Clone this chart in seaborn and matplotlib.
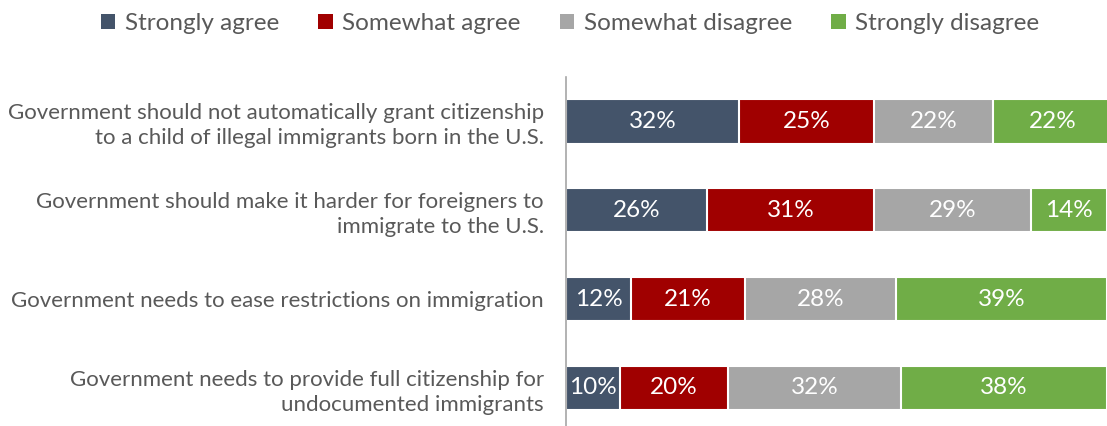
import numpy as np
import pandas as pd
import matplotlib
matplotlib.use("Agg")
import matplotlib.pyplot as plt
import seaborn as sns
from matplotlib.patches import Patch

# survey statements (top to bottom)
statements = [
    "Government should not automatically grant citizenship\nto a child of illegal immigrants born in the U.S.",
    "Government should make it harder for foreigners to\nimmigrate to the U.S.",
    "Government needs to ease restrictions on immigration",
    "Government needs to provide full citizenship for\nundocumented immigrants",
]
responses = ["Strongly agree", "Somewhat agree", "Somewhat disagree", "Strongly disagree"]
strongly_agree = [32, 26, 12, 10]
somewhat_agree = [25, 31, 21, 20]
somewhat_disagree = [22, 29, 28, 32]
strongly_disagree = [22, 14, 39, 38]
colours = ["#44546A", "#A00000", "#A6A6A6", "#70AD47"]

sns.set_style("white")
plt.rcParams["font.family"] = ["Lato", "DejaVu Sans"]

df = pd.DataFrame({"statement": statements,
                   responses[0]: strongly_agree,
                   responses[1]: somewhat_agree,
                   responses[2]: somewhat_disagree,
                   responses[3]: strongly_disagree})
cum = df[responses].cumsum(axis=1)

fig = plt.figure(figsize=(11.07, 4.26), dpi=100)
ax = fig.add_axes([566 / 1107, 0, 1 - 566 / 1107, 1 - 77 / 426])

# stacked bars: draw cumulative totals from the right-most segment back
for i in range(len(responses) - 1, -1, -1):
    sns.barplot(x=cum[responses[i]], y=df["statement"], order=statements,
                color=colours[i], orient="h", width=0.5, ax=ax,
                edgecolor="white", linewidth=1.5, saturation=1)

for r in range(len(statements)):
    for i, resp in enumerate(responses):
        val = df[resp][r]
        left = cum[resp][r] - val
        ax.text(left + val / 2, r, f"{val}%", ha="center", va="center",
                color="white", fontsize=17.5)

ax.set_xlim(0, 100)
ax.set_ylim(3.43, -0.5)
ax.set_xlabel("")
ax.set_ylabel("")
ax.set_xticks([])
ax.set_yticks(range(len(statements)))
ax.set_yticklabels(statements, fontsize=16, color="#595959", multialignment="right",
                   linespacing=1.3)
ax.tick_params(axis="y", length=0, pad=16)
for s in ["top", "right", "bottom"]:
    ax.spines[s].set_visible(False)
ax.spines["left"].set_color("#A6A6A6")
ax.spines["left"].set_linewidth(1.2)

handles = [Patch(facecolor=c, edgecolor="none") for c in colours]
fig.legend(handles, responses, loc="center", bbox_to_anchor=(0.515, 0.945), ncol=4,
           frameon=False, fontsize=17.5, handlelength=0.6, handleheight=0.6,
           handletextpad=0.4, columnspacing=1.6, labelcolor="#595959")

fig.savefig("out.png", dpi=100)
